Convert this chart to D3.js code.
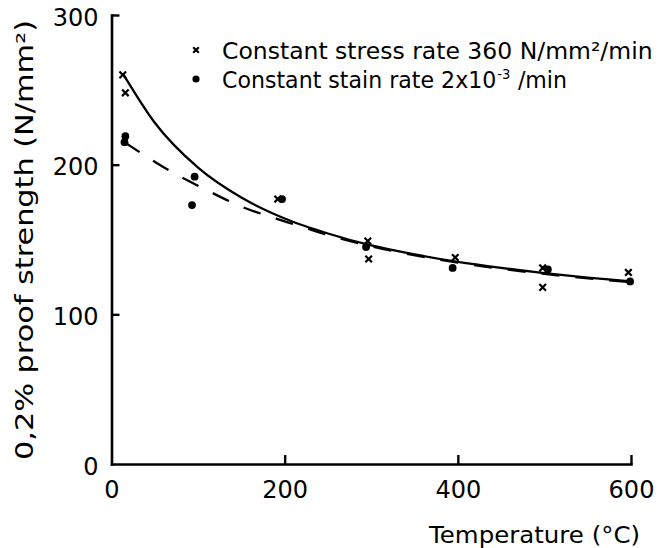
<!DOCTYPE html>
<html>
<head>
<meta charset="utf-8">
<script src="https://cdn.jsdelivr.net/npm/d3@7"></script>
<style>
  html, body { margin: 0; padding: 0; background: #fff; }
  svg { display: block; }
  text { font-family: "DejaVu Sans", sans-serif; fill: #000; }
</style>
</head>
<body>
<svg id="chart" width="668" height="548"></svg>
<script>
// ---- data ----
const xTicks = [0, 200, 400, 600];
const yTicks = [0, 100, 200, 300];

// crosses: constant stress rate 360 N/mm²/min
const stressTemp = [13, 16, 192, 296, 297, 397, 498, 498, 597];
const stressVal  = [260, 248, 177, 149, 137, 138, 131, 118, 128];

// dots: constant strain rate 2x10^-3 /min
const strainTemp = [16, 15, 96, 93, 197, 294, 394, 504, 599];
const strainVal  = [219, 215, 192, 173, 177, 145, 131, 130, 122];

// solid fitted curve (stress rate)
const solidTemp = [13, 50, 100, 150, 200, 250, 300, 350, 400, 450, 500, 550, 600];
const solidVal  = [261, 228, 198, 178, 164, 154, 146, 140, 135, 131, 127.5, 124.5, 122];

// dashed fitted curve (strain rate)
const dashTemp = [15, 70, 110, 150, 190, 220, 250, 300, 400, 500, 600];
const dashVal  = [215, 195, 183, 172, 164, 158.5, 153, 145.5, 134.5, 127, 121.5];

const legendLabels = ["Constant stress rate 360 N/mm²/min", "Constant stain rate 2x10"];

// ---- layout ----
const svg = d3.select("#chart");
const x = d3.scaleLinear().domain([0, 600]).range([111.5, 631]);
const y = d3.scaleLinear().domain([0, 300]).range([464, 15]);

const g = svg.append("g");

// axes
const xAxis = d3.axisBottom(x).tickValues(xTicks).tickSizeInner(-9).tickSizeOuter(0).tickPadding(17);
const yAxis = d3.axisLeft(y).tickValues(yTicks).tickSizeInner(-8).tickSizeOuter(0).tickPadding(13);

const gx = g.append("g").attr("transform", `translate(0,${y(0)})`).call(xAxis);
const gy = g.append("g").attr("transform", `translate(${x(0)},0)`).call(yAxis);

[gx, gy].forEach(a => {
  a.selectAll("path.domain").attr("stroke", "#000").attr("stroke-width", 2.6);
  a.selectAll(".tick line").attr("stroke", "#000").attr("stroke-width", 2.4);
  a.selectAll(".tick text").attr("font-family", "DejaVu Sans").attr("font-size", 24).attr("fill", "#000");
});
gy.selectAll(".tick text").attr("dy", "0.42em");
gy.selectAll(".tick").filter(d => d === 0).select("line").remove();
gx.selectAll(".tick").filter(d => d === 0).select("line").remove();
gy.select("path.domain").attr("stroke-linecap", "square");
gx.select("path.domain").attr("stroke-linecap", "square");

// curves
const line = d3.line().x(d => x(d[0])).y(d => y(d[1])).curve(d3.curveMonotoneX);
const solid = solidTemp.map((t, i) => [t, solidVal[i]]);
const dashed = dashTemp.map((t, i) => [t, dashVal[i]]);

g.append("path").attr("d", line(dashed)).attr("fill", "none").attr("stroke", "#000")
  .attr("stroke-width", 2.3).attr("stroke-dasharray", "18,16");
g.append("path").attr("d", line(solid)).attr("fill", "none").attr("stroke", "#000")
  .attr("stroke-width", 2.3);

// markers
function cross(sel, cx, cy, s) {
  sel.append("path")
    .attr("d", `M${cx - s},${cy - s}L${cx + s},${cy + s}M${cx - s},${cy + s}L${cx + s},${cy - s}`)
    .attr("stroke", "#000").attr("stroke-width", 2.2).attr("fill", "none");
}
stressTemp.forEach((t, i) => cross(g, x(t), y(stressVal[i]), 3.3));
strainTemp.forEach((t, i) => {
  g.append("circle").attr("cx", x(t)).attr("cy", y(strainVal[i])).attr("r", 3.9).attr("fill", "#000");
});

// legend
cross(g, 196, 50, 2.8);
g.append("circle").attr("cx", 196).attr("cy", 79).attr("r", 3.6).attr("fill", "#000");
g.append("text").attr("x", 222).attr("y", 59).attr("font-size", 23.5).text(legendLabels[0]);
const l2 = g.append("text").attr("x", 222).attr("y", 88).attr("font-size", 23.5)
  .attr("textLength", 345).attr("lengthAdjust", "spacingAndGlyphs");
l2.append("tspan").text(legendLabels[1]);
l2.append("tspan").attr("font-size", 14).attr("dy", -9).attr("dx", 1).text("-3");
l2.append("tspan").attr("dy", 9).attr("dx", 8).text("/min");

// axis titles
g.append("text").attr("x", 640).attr("y", 543).attr("text-anchor", "end").attr("font-size", 23.5)
  .attr("textLength", 211).attr("lengthAdjust", "spacingAndGlyphs")
  .text("Temperature (°C)");
g.append("text").attr("transform", "translate(33,240) rotate(-90)").attr("text-anchor", "middle")
  .attr("font-size", 24).attr("textLength", 440).attr("lengthAdjust", "spacingAndGlyphs")
  .text("0,2% proof strength (N/mm²)");
</script>
</body>
</html>
